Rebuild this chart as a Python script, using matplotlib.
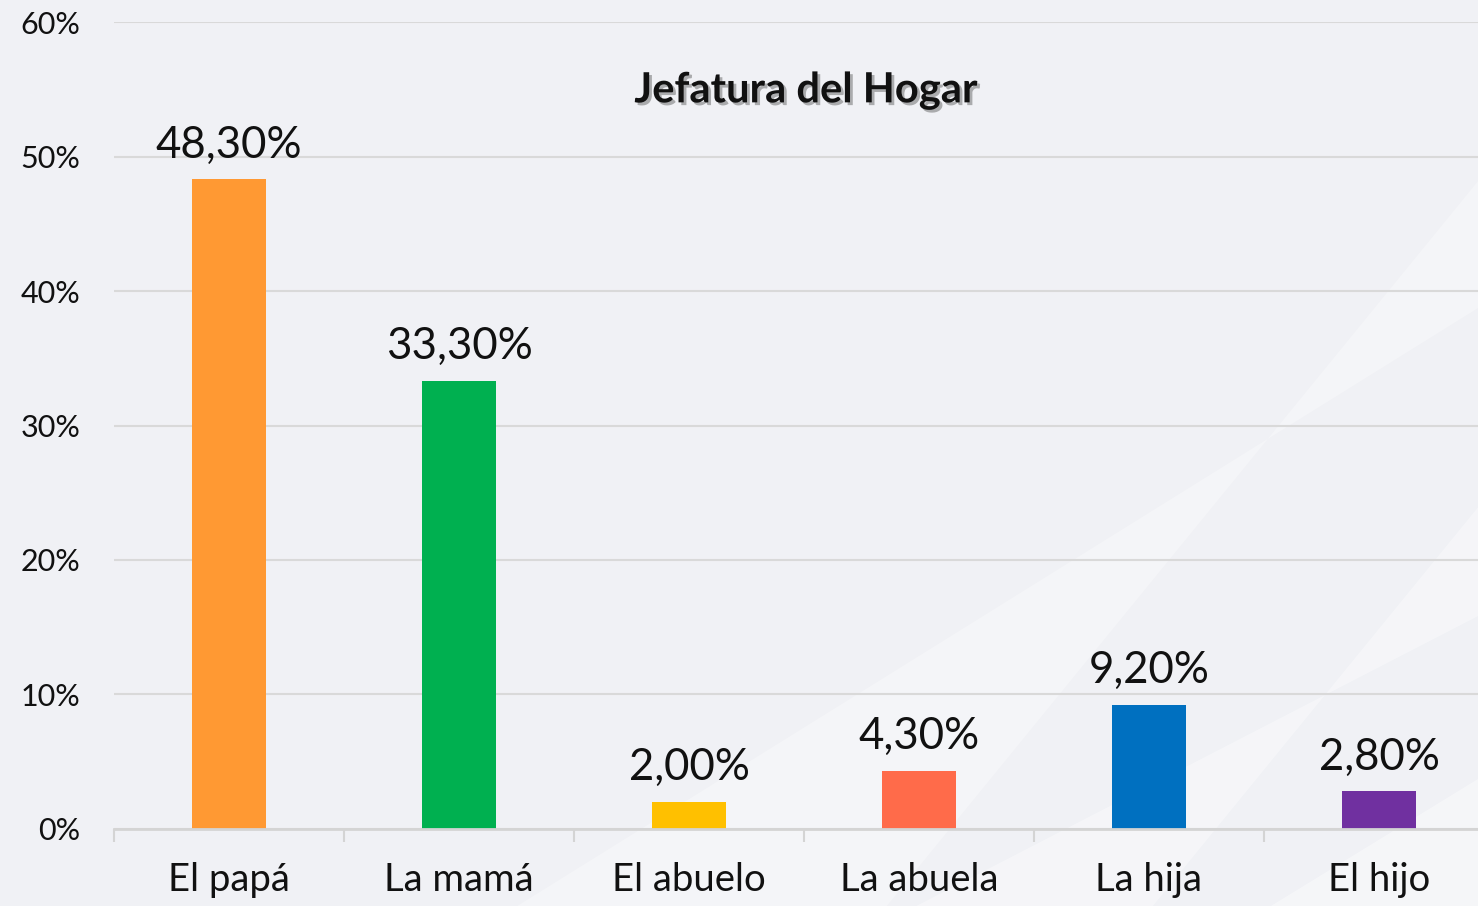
import matplotlib
matplotlib.use("Agg")
import matplotlib.pyplot as plt
import matplotlib.patheffects as pe
from matplotlib.patches import Polygon
from matplotlib.ticker import FuncFormatter

categories = ["El papá", "La mamá", "El abuelo", "La abuela", "La hija", "El hijo"]
values = [48.3, 33.3, 2.0, 4.3, 9.2, 2.8]
labels = ["48,30%", "33,30%", "2,00%", "4,30%", "9,20%", "2,80%"]
colors = ["#FF9933", "#00B050", "#FFC000", "#FF6B4A", "#0070C0", "#7030A0"]

plt.rcParams["font.family"] = ["Lato", "DejaVu Sans"]

fig = plt.figure(figsize=(14.78, 9.06), dpi=100)
fig.patch.set_facecolor("#F0F1F5")

# subtle diagonal light bands behind everything
bg = fig.add_axes([0, 0, 1, 1], zorder=-1)
bg.set_xlim(0, 1)
bg.set_ylim(0, 1)
bg.axis("off")
for pts, a in [
    ([(0.35, 0.0), (0.60, 0.0), (1.0, 0.80), (1.0, 0.66)], 0.30),
    ([(0.62, 0.0), (0.78, 0.0), (1.0, 0.44), (1.0, 0.32)], 0.35),
    ([(0.86, 0.0), (1.0, 0.0), (1.0, 0.14)], 0.40),
]:
    bg.add_patch(Polygon(pts, closed=True, facecolor="white", alpha=a, lw=0))

ax = fig.add_axes([0.0771, 0.085, 0.9337, 0.8907], zorder=1)
ax.set_facecolor("none")

x = range(len(categories))
bars = ax.bar(x, values, width=0.32, color=colors, zorder=3)
for b, lab in zip(bars, labels):
    ax.annotate(lab, (b.get_x() + b.get_width() / 2, b.get_height()),
                xytext=(0, 10), textcoords="offset points",
                ha="center", va="bottom", fontsize=31.5, color="#111111")

ax.set_xlim(-0.5, 5.5)
ax.set_ylim(0, 60)
ax.set_yticks(range(0, 61, 10))
ax.yaxis.set_major_formatter(FuncFormatter(lambda v, p: f"{v:.0f}%"))
ax.set_xticks(list(x))
ax.set_xticklabels(categories, fontsize=27.5)
ax.set_xticks([i - 0.5 for i in range(len(categories) + 1)], minor=True)
ax.tick_params(axis="x", which="major", length=0, pad=24, colors="#111111")
ax.tick_params(axis="x", which="minor", length=9, width=1.5, color="#D4D4D4")
ax.tick_params(axis="y", length=0, labelsize=22, pad=24, colors="#111111")

ax.grid(axis="y", color="#D9D9D9", lw=1.5, zorder=0)
for s in ["top", "right", "left"]:
    ax.spines[s].set_visible(False)
ax.spines["bottom"].set_color("#D4D4D4")
ax.spines["bottom"].set_linewidth(2)
ax.spines["bottom"].set_zorder(4)

fig.text(0.545, 0.90, "Jefatura del Hogar", ha="center", va="center",
         fontsize=30, fontweight="bold", color="#111111",
         path_effects=[pe.withSimplePatchShadow(offset=(2, -2), shadow_rgbFace="#666666", alpha=0.5)])

fig.savefig("out.png", dpi=100, facecolor=fig.get_facecolor())
